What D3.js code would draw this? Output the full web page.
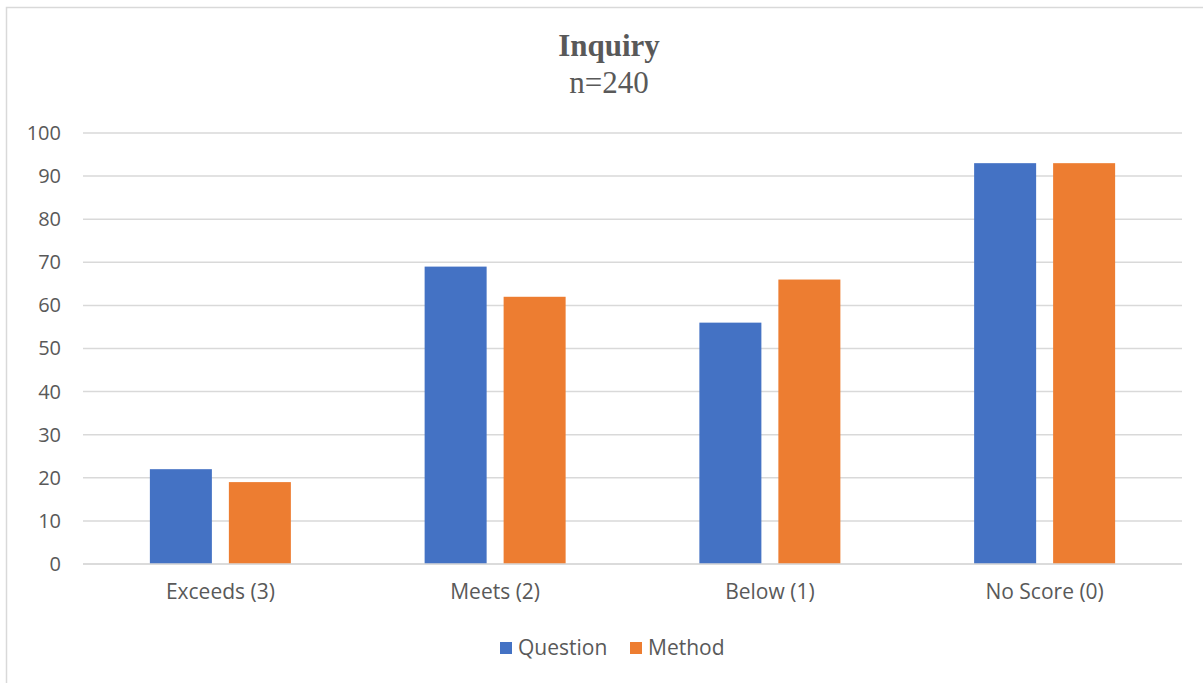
<!DOCTYPE html>
<html>
<head>
<meta charset="utf-8">
<script src="https://cdn.jsdelivr.net/npm/d3@7"></script>
<style>
  body { margin: 0; background: #fff; }
  svg { display: block; }
</style>
</head>
<body>
<div id="chart"></div>
<script>
// data
var categories = ["Exceeds (3)", "Meets (2)", "Below (1)", "No Score (0)"];
var seriesNames = ["Question", "Method"];
var questionValues = [22, 69, 56, 93];
var methodValues = [19, 62, 66, 93];
var yTicks = [0, 10, 20, 30, 40, 50, 60, 70, 80, 90, 100];
var colors = ["#4472C4", "#ED7D31"];

var W = 1203, H = 683;
var plotLeft = 83, plotRight = 1182, plotTop = 133, plotBottom = 564;
var font = "'Open Sans', sans-serif";
var serif = "'Liberation Serif', 'Times New Roman', serif";

var svg = d3.select("#chart").append("svg").attr("width", W).attr("height", H);

// chart frame
svg.append("rect").attr("x", 6.5).attr("y", 7.5).attr("width", W + 10).attr("height", H + 10)
  .attr("fill", "#fff").attr("stroke", "#d9d9d9").attr("stroke-width", 1.5);

// title
svg.append("text").attr("x", 609).attr("y", 56).attr("text-anchor", "middle")
  .style("font-family", serif).style("font-size", "31px").style("font-weight", "bold")
  .attr("fill", "#595959").text("Inquiry");
svg.append("text").attr("x", 609).attr("y", 93).attr("text-anchor", "middle")
  .style("font-family", serif).style("font-size", "31px")
  .attr("fill", "#595959").text("n=240");

var y = d3.scaleLinear().domain([0, 100]).range([plotBottom, plotTop]);
var x0 = d3.scaleBand().domain(categories).range([plotLeft, plotRight]).padding(0);
var x1 = d3.scaleBand().domain(seriesNames).range([0, 141]).paddingInner(0.215).paddingOuter(0);

// gridlines
svg.append("g").selectAll("line").data(yTicks).enter().append("line")
  .attr("x1", plotLeft).attr("x2", plotRight)
  .attr("y1", function(d) { return y(d); }).attr("y2", function(d) { return y(d); })
  .attr("stroke", "#d9d9d9").attr("stroke-width", 1.5);

// y axis labels
var yAxis = d3.axisLeft(y).tickValues(yTicks).tickSize(0).tickPadding(0);
var gy = svg.append("g").attr("transform", "translate(61,0)").call(yAxis);
gy.select(".domain").remove();
gy.selectAll("text").style("font-family", font).style("font-size", "20px").attr("fill", "#595959");

// bars
var rows = categories.map(function(c, i) {
  return { cat: c, vals: [questionValues[i], methodValues[i]] };
});
var groups = svg.append("g").selectAll("g").data(rows).enter().append("g")
  .attr("transform", function(d) { return "translate(" + (x0(d.cat) + (x0.bandwidth() - 141) / 2) + ",0)"; });
groups.selectAll("rect").data(function(d) {
    return d.vals.map(function(v, j) { return { name: seriesNames[j], value: v, color: colors[j] }; });
  }).enter().append("rect")
  .attr("x", function(d) { return x1(d.name); })
  .attr("width", x1.bandwidth())
  .attr("y", function(d) { return y(d.value); })
  .attr("height", function(d) { return y(0) - y(d.value); })
  .attr("fill", function(d) { return d.color; });

// x axis line
svg.append("line").attr("x1", plotLeft).attr("x2", plotRight).attr("y1", plotBottom).attr("y2", plotBottom)
  .attr("stroke", "#d9d9d9").attr("stroke-width", 1.5);

// x labels
var xAxis = d3.axisBottom(x0).tickSize(0).tickPadding(0);
var gx = svg.append("g").attr("transform", "translate(0,584)").call(xAxis);
gx.select(".domain").remove();
gx.selectAll("text").style("font-family", font).style("font-size", "21px").attr("fill", "#595959");

// legend
var legendX = [500, 630];
var leg = svg.append("g").selectAll("g").data(seriesNames).enter().append("g")
  .attr("transform", function(d, i) { return "translate(" + legendX[i] + ",642)"; });
leg.append("rect").attr("width", 12).attr("height", 12).attr("fill", function(d, i) { return colors[i]; });
leg.append("text").attr("x", 18).attr("y", 13)
  .style("font-family", font).style("font-size", "21px").attr("fill", "#595959")
  .text(function(d) { return d; });
</script>
</body>
</html>
